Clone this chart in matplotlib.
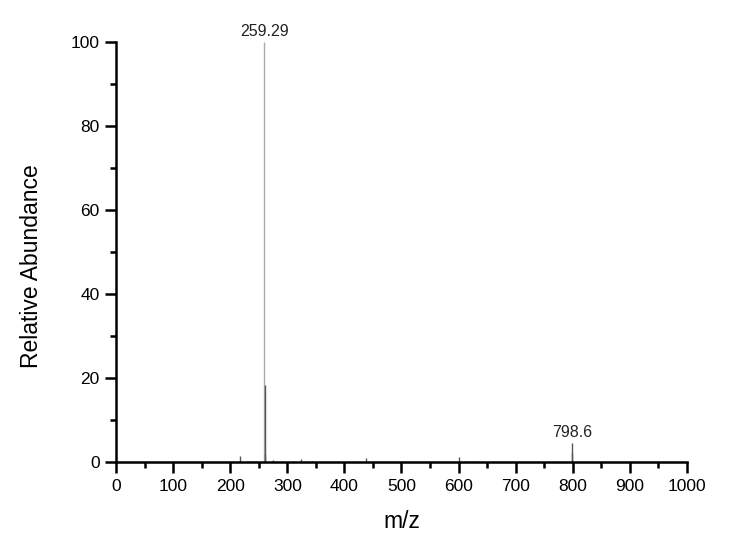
import matplotlib
matplotlib.use("Agg")
import matplotlib.pyplot as plt
from matplotlib.ticker import MultipleLocator

plt.rcParams['font.family'] = ['Liberation Sans', 'DejaVu Sans']

# peak list (m/z, relative abundance)
mz = [217, 239, 259.29, 260.3, 261.0, 274, 324, 343, 437, 600, 611, 627, 798.6, 799.4]
abundance = [1.5, 0.3, 100, 18.3, 2.0, 0.5, 0.7, 0.2, 0.9, 1.3, 0.3, 0.3, 4.6, 2.1]
labeled_mz = [259.29, 798.6]
labeled_abundance = [100, 4.6]
labels = ["259.29", "798.6"]

x_ticks = [0, 100, 200, 300, 400, 500, 600, 700, 800, 900, 1000]
y_ticks = [0, 20, 40, 60, 80, 100]

fig = plt.figure(figsize=(7.4, 5.42), dpi=100)
ax = fig.add_axes([0.157, 0.1476, 0.771, 0.775])

colors = ['#aaaaaa' if a > 50 else '#555555' for a in abundance]
ax.vlines(mz, 0, abundance, colors=colors, linewidth=1.0)

for x, y, t in zip(labeled_mz, labeled_abundance, labels):
    ax.annotate(t, (x, y), xytext=(0, 2), textcoords='offset points',
                ha='center', va='bottom', fontsize=11.5, color='#222222')

ax.set_xlim(0, 1000)
ax.set_ylim(0, 100)
ax.set_xticks(x_ticks)
ax.set_yticks(y_ticks)
ax.xaxis.set_minor_locator(MultipleLocator(50))
ax.yaxis.set_minor_locator(MultipleLocator(10))

for s in ['top', 'right']:
    ax.spines[s].set_visible(False)
for s in ['left', 'bottom']:
    ax.spines[s].set_linewidth(1.8)

ax.tick_params(which='major', direction='out', length=8, width=1.8, labelsize=12.5, pad=4)
ax.tick_params(which='minor', direction='out', length=4.5, width=1.8)

ax.set_xlabel('m/z', fontsize=16.5, labelpad=12)
ax.set_ylabel('Relative Abundance', fontsize=16.5)
ax.yaxis.set_label_coords(-0.129, 0.467)

fig.savefig('out.png', dpi=100)
